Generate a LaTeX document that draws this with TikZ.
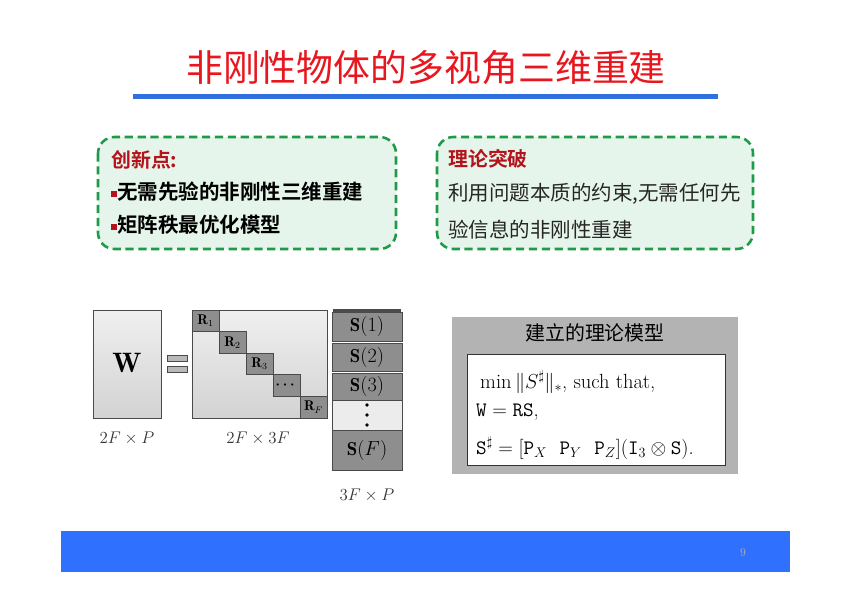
\documentclass[tikz,border=0pt]{standalone}
\usepackage{amsmath,amssymb}
\usepackage{fontspec}
\usepackage{xcolor}
\usetikzlibrary{calc,positioning}
\newfontfamily\cjk{Noto Sans CJK SC}
\newfontfamily\cjkbold{Noto Sans CJK SC Bold}
\definecolor{titred}{HTML}{E8161E}
\definecolor{headred}{HTML}{B3141C}
\definecolor{rulebl}{HTML}{2F6FE0}
\definecolor{footbl}{HTML}{3070FF}
\definecolor{dashgr}{HTML}{1E9A48}
\definecolor{notefill}{HTML}{E6F5EB}
\definecolor{panelg}{HTML}{B3B3B3}
\definecolor{blockg}{HTML}{8E8E8E}
\definecolor{edgeg}{HTML}{4A4A4A}
\tikzset{
  titletxt/.style={font=\fontsize{31.5}{36}\selectfont\cjk,text=titred,inner sep=0pt},
  notebox/.style={draw=dashgr,line width=2.2pt,dash pattern=on 7pt off 4pt,rounded corners=14pt,fill=notefill},
  headtxt/.style={font=\fontsize{17}{20}\selectfont\cjkbold,text=headred,anchor=west,inner sep=0pt},
  itemtxt/.style={font=\fontsize{17.5}{20}\selectfont\cjkbold,text=black,anchor=west,inner sep=0pt},
  plaintxt/.style={font=\fontsize{17.5}{20}\selectfont\cjk,text=black!85,anchor=west,inner sep=0pt},
  matbox/.style={draw=edgeg,thick,top color=gray!12,bottom color=gray!35},
  blk/.style={draw=edgeg,thick,fill=blockg},
  dimtxt/.style={font=\fontsize{15}{18}\selectfont,text=black!80,inner sep=0pt},
  fmtxt/.style={font=\fontsize{17.5}{20}\selectfont,anchor=west,inner sep=0pt}
}
\newcommand{\redsq}{\textcolor{headred}{\rule[0.25ex]{0.3em}{0.3em}}}
\begin{document}
\begin{tikzpicture}[x=0.03cm,y=-0.03cm]
\useasboundingbox (0,0) rectangle (851,602);
% title and rule
\node[titletxt] (title) at (426,68) {非刚性物体的多视角三维重建};
\fill[rulebl] (133,94) rectangle (718,98.5);
% innovation box
\draw[notebox] (98,137) rectangle (396,249);
\node[headtxt] (inno) at (111,160) {创新点:};
\node[itemtxt] (itema) at (111,192) {\redsq 无需先验的非刚性三维重建};
\node[itemtxt] (itemb) at (111,225) {\redsq 矩阵秩最优化模型};
% theory box
\draw[notebox] (437,137) rectangle (753,249);
\node[headtxt] (theory) at (448,159) {理论突破};
\node[plaintxt] (linea) at (448,194) {利用问题本质的约束,无需任何先};
\node[plaintxt] (lineb) at (448,230) {验信息的非刚性重建};
% W = R S
\draw[matbox] (93,310) rectangle (161,418);
\node[font=\fontsize{24}{26}\selectfont] (wmat) at (127,363) {$\mathbf{W}$};
\node[dimtxt] (wdim) at (127,438) {$2F\times P$};
\draw[draw=edgeg,fill=gray!55] (167,355) rectangle (187,361);
\draw[draw=edgeg,fill=gray!55] (167,366) rectangle (187,372);
\draw[matbox] (192,310) rectangle (327,418);
\foreach \i/\t in {0/$\mathbf{R}_{1}$,1/$\mathbf{R}_{2}$,2/$\mathbf{R}_{3}$,3/$\boldsymbol{\cdots}$,4/$\mathbf{R}_{F}$}{
  \draw[blk] ({192+27*\i},{310+21.6*\i}) rectangle +(27,21.6);
  \node[font=\fontsize{12}{14}\selectfont,inner sep=0pt] (r\i) at ({205.5+27*\i},{320.8+21.6*\i}) {\t};
}
\node[dimtxt] (rdim) at (258,438) {$2F\times 3F$};
\fill[edgeg] (333,309) rectangle (401,312);
\foreach \n/\ya/\yb/\t in {1/312/341/$\mathbf{S}(1)$,2/343/371/$\mathbf{S}(2)$,3/373/400/$\mathbf{S}(3)$,4/430/470/$\mathbf{S}(F)$}{
  \draw[blk] (332,\ya) rectangle (402,\yb);
  \node[font=\fontsize{16}{18}\selectfont,inner sep=0pt] (s\n) at (367,{(\ya+\yb)/2}) {\t};
}
\draw[draw=edgeg,thick,fill=gray!15] (332,400) rectangle (402,430);
\foreach \y in {405,415,425}
  \fill[black] (367,\y) circle (1.9);
\node[dimtxt] (sdim) at (367,495) {$3F\times P$};
% model panel
\fill[panelg] (452,317) rectangle (738,474);
\node[font=\fontsize{17}{20}\selectfont\cjk,inner sep=0pt] (mtitle) at (595,333) {建立的理论模型};
\draw[black!80,fill=white] (467,354) rectangle (725,465);
\node[fmtxt] (fa) at (480,382) {$\min\|S^{\sharp}\|_{*}$, such that,};
\node[fmtxt] (fb) at (476,412) {$\mathtt{W}=\mathtt{RS}$,};
\node[fmtxt] (fc) at (476,448) {$\mathtt{S}^{\sharp}=[\mathtt{P}_X\ \ \mathtt{P}_Y\ \ \mathtt{P}_Z](\mathtt{I}_3\otimes\mathtt{S})$.};
% footer
\fill[footbl] (61,531) rectangle (790,572);
\node[font=\fontsize{10}{11}\selectfont,text=gray!65,inner sep=0pt] (pgno) at (743,553) {9};
\end{tikzpicture}
\end{document}
